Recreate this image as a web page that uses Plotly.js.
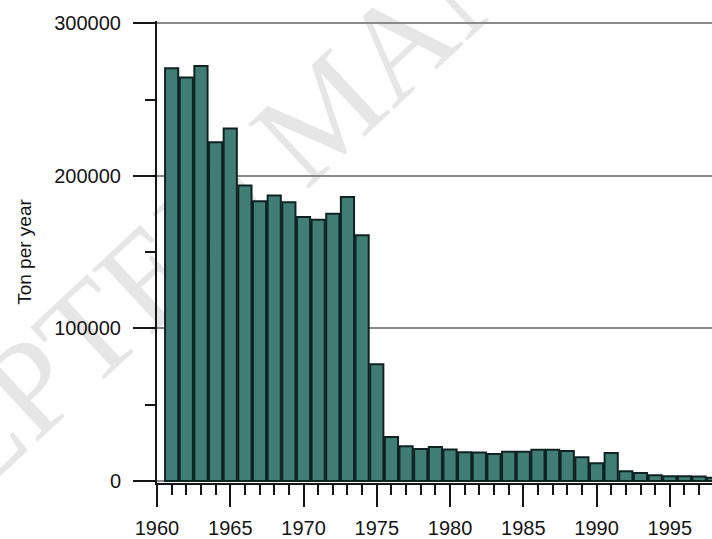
<!DOCTYPE html>
<html>
<head>
<meta charset="utf-8">
<script src="https://cdn.plot.ly/plotly-3.0.1.min.js"></script>
<style>
html,body{margin:0;padding:0;background:#fff;}
#chart{width:712px;height:539px;}
</style>
</head>
<body>
<div id="chart"></div>
<script>
// Data
var years = [1961,1962,1963,1964,1965,1966,1967,1968,1969,1970,
             1971,1972,1973,1974,1975,1976,1977,1978,1979,1980,
             1981,1982,1983,1984,1985,1986,1987,1988,1989,1990,
             1991,1992,1993,1994,1995,1996,1997,1998];
var tons  = [270500,264400,272000,222100,231100,193700,183400,187100,182700,173100,
             171300,175100,186200,161100,76600,28900,22800,21000,22300,20600,
             18800,18600,17700,19200,19200,20400,20400,19700,15500,11600,
             18400,6400,5200,3700,3100,3100,3000,2200];
var yTitle = "Ton per year";
var watermark = "ACCEPTED MANUSCRIPT";

var axisColor = "#151515";
var trace = {
  type: "bar",
  x: years,
  y: tons,
  width: 0.9,
  marker: {color: "#407d75", line: {color: "#0f2323", width: 2}},
  hoverinfo: "x+y"
};

var layout = {
  width: 712, height: 539,
  margin: {l: 157, r: 0, t: 21, b: 56, pad: 0},
  paper_bgcolor: "#ffffff",
  plot_bgcolor: "#ffffff",
  showlegend: false,
  bargap: 0,
  font: {family: "Liberation Sans, Arial, Helvetica, sans-serif", color: axisColor},
  xaxis: {
    range: [1960, 1997.88],
    tick0: 1960, dtick: 5,
    tickformat: "d",
    ticks: "outside", ticklen: 22, tickwidth: 2, tickcolor: axisColor,
    minor: {dtick: 1, ticks: "outside", ticklen: 10, tickwidth: 2, tickcolor: axisColor, showgrid: false},
    showline: true, linecolor: axisColor, linewidth: 2,
    showgrid: false, zeroline: false,
    tickfont: {size: 20, color: axisColor},
    ticklabelstandoff: 4,
    fixedrange: true
  },
  yaxis: {
    range: [-1312, 301500],
    tick0: 0, dtick: 100000,
    tickformat: "d",
    ticks: "outside", ticklen: 22, tickwidth: 2, tickcolor: axisColor,
    minor: {dtick: 50000, ticks: "outside", ticklen: 10, tickwidth: 2, tickcolor: axisColor, showgrid: false},
    showline: true, linecolor: axisColor, linewidth: 2,
    showgrid: true, gridcolor: "#8a8a8a", gridwidth: 2,
    zeroline: false,
    tickfont: {size: 20, color: axisColor},
    ticklabelstandoff: 8,
    title: {text: yTitle, font: {size: 19, color: axisColor}, standoff: 18},
    fixedrange: true
  },
  shapes: [{
    type: "line", xref: "paper", yref: "paper",
    x0: 0.1045, y0: 0.6272, x1: 0.4649, y1: 1.0308,
    layer: "below",
    line: {width: 0, color: "rgba(0,0,0,0)"},
    label: {
      text: watermark,
      textposition: "middle",
      textangle: "auto",
      yanchor: "middle",
      font: {family: "Liberation Serif, Times New Roman, serif", size: 135, color: "#e6e6e6"}
    }
  }]
};

Plotly.newPlot("chart", [trace], layout, {displayModeBar: false, staticPlot: true});
</script>
</body>
</html>
